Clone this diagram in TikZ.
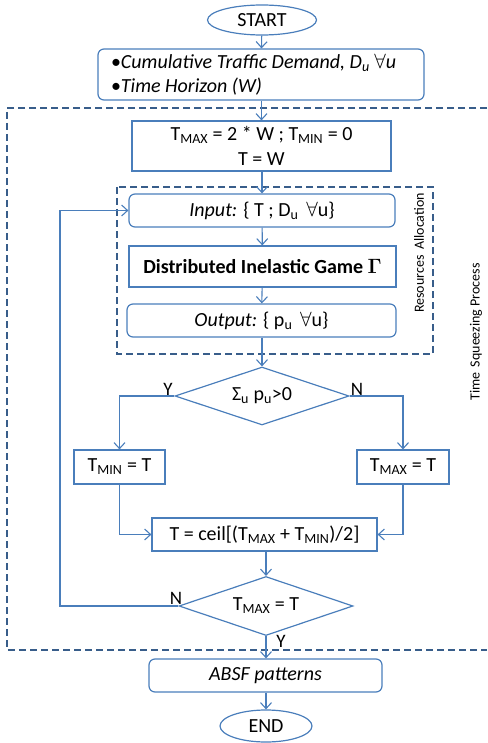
\documentclass[tikz,border=0pt]{standalone}
\usepackage{fontspec}
\setmainfont{Carlito}
\usepackage{amsmath}
\usepackage{amssymb}
\usetikzlibrary{arrows.meta,calc,shapes.geometric,positioning}

\definecolor{flowblue}{RGB}{74,126,187}
\definecolor{dashblue}{RGB}{56,93,138}

\tikzset{
	box/.style={draw=flowblue, line width=1.2pt, inner sep=0pt, align=center, font=\fontsize{20}{24.5}\selectfont},
	roundbox/.style={box, rounded corners=6pt},
	term/.style={box, ellipse},
	decision/.style={box, diamond},
	flow/.style={draw=flowblue, line width=1.1pt, -{Straight Barb[length=6pt,width=11pt]}},
	frame/.style={draw=dashblue, line width=1.8pt, dash pattern=on 7pt off 4pt},
	tag/.style={font=\fontsize{19}{22}\selectfont, inner sep=0pt},
	sidetag/.style={rotate=90, inner sep=0pt, font=\fontsize{14}{16}\selectfont}
}

\newcommand{\lo}[1]{\textsubscript{#1}}

\begin{document}
\begin{tikzpicture}[x=1pt,y=-1pt]
	\useasboundingbox (0,0) rectangle (487,743);

	%frames
	\draw [frame] (487,108) -- (7,108) -- (7,650) -- (487,650);
	\draw [frame] (117,187) rectangle (433,354);
	\node [sidetag] (alloc) at (419,253) {Resources\, Allocation};
	\node [sidetag] (squeeze) at (476,332) {Time\, Squeezing Process};

	%nodes
	\node [term, minimum width=109pt, minimum height=30pt] (start) at (262,20) {START};
	\node [roundbox, minimum width=326pt, minimum height=51pt, align=left] (data) at (261,74.5)
		{\makebox[300pt][l]{\textbullet\textit{Cumulative Traffic Demand, D\lo{u}} $\forall$\textit{u}}\\
		 \makebox[300pt][l]{\textbullet\textit{Time Horizon (W)}}};
	\node [box, minimum width=259pt, minimum height=50pt] (init) at (261.5,146)
		{T\lo{MAX} = 2 * W ; T\lo{MIN} = 0\\ T = W};
	\node [roundbox, minimum width=266pt, minimum height=33pt] (input) at (262,210.5)
		{\textit{Input:} \{ T ; D\lo{u} \,$\forall$u\}};
	\node [box, minimum width=267pt, minimum height=41pt] (game) at (262.5,266.5)
		{\textbf{Distributed Inelastic Game} $\boldsymbol{\Gamma}$};
	\node [roundbox, minimum width=269pt, minimum height=33pt] (output) at (261.5,320.5)
		{\textit{Output:} \{ p\lo{u} \,$\forall$u\}};
	\node [decision, minimum width=174pt, minimum height=58pt, aspect=3] (check) at (262,396)
		{Σ\lo{u} p\lo{u}>0};
	\node [box, minimum width=91pt, minimum height=34pt] (lower) at (119.5,467) {T\lo{MIN} = T};
	\node [box, minimum width=92pt, minimum height=34pt] (upper) at (403,467) {T\lo{MAX} = T};
	\node [box, minimum width=225pt, minimum height=33pt] (half) at (264.5,534.5)
		{T = ceil[(T\lo{MAX} + T\lo{MIN})/2]};
	\node [decision, minimum width=174pt, minimum height=59pt, aspect=3] (stop) at (266,606)
		{T\lo{MAX} = T};
	\node [roundbox, minimum width=233pt, minimum height=33pt] (absf) at (265.5,675.5)
		{\textit{ABSF patterns}};
	\node [term, minimum width=92pt, minimum height=32pt] (end) at (266,726) {END};

	%connectors
	\draw [flow] (start) -- (data);
	\draw [flow] (data.south -| init.north) -- (init);
	\draw [flow] (init.south -| input.north) -- (input);
	\draw [flow] (input) -- (game);
	\draw [flow] (game) -- (output);
	\draw [flow] (output.south -| check.north) -- (check);
	\draw [flow] (check.west) -| (lower.north);
	\draw [flow] (check.east) -| (upper.north);
	\draw [flow] (lower.south) |- (half.west);
	\draw [flow] (upper.south) |- (half.east);
	\draw [flow] (half.south -| stop.north) -- (stop);
	\coordinate (back) at (60,606);
	\draw [flow] (stop.west) -- (back) |- (input.west);
	\draw [flow] (stop.south) -- (stop.south |- absf.north);
	\draw [flow] (absf.south -| end.north) -- (end);

	%labels
	\node [tag] (yes1) at (168,389) {Y};
	\node [tag] (no1) at (357,389) {N};
	\node [tag] (no2) at (176,598) {N};
	\node [tag] (yes2) at (281,641) {Y};

\end{tikzpicture}
\end{document}
